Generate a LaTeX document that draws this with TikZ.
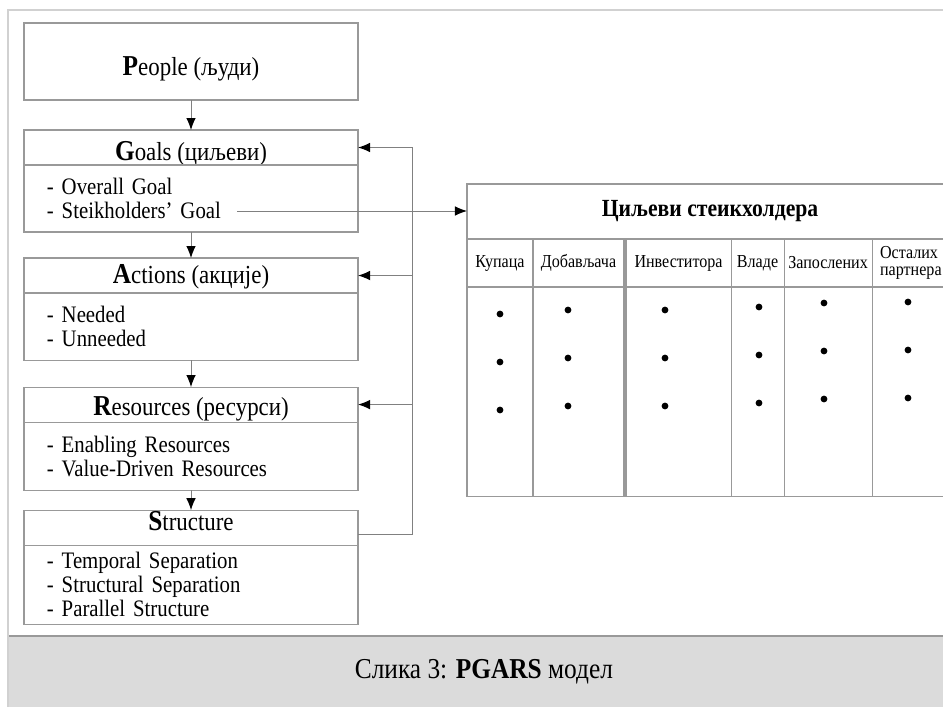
\documentclass[tikz,border=0pt]{standalone}
\usepackage{fontspec}
\setmainfont{Liberation Serif}[FakeStretch=0.88]
\usetikzlibrary{positioning, arrows.meta, calc}

\newcommand{\pgarsinit}[1]{{\fontsize{20.5}{21}\selectfont\bfseries #1}}

\begin{document}
\begin{tikzpicture}[
  x=0.025cm, y=-0.025cm,
  % Box styles
  box/.style={draw=black!40, rectangle, line width=0.8pt, outer sep=0pt, fill=white, minimum width=8.35cm},
  headbox/.style={box, inner sep=0pt, text height=0.7cm, text depth=0.175cm, font=\fontsize{18.5}{20}\selectfont},
  bodybox/.style={box, text width=7.2cm, inner xsep=0.575cm, inner ysep=2pt, align=left, font=\fontsize{16.8}{17.1}\selectfont},
  cell/.style={draw=black!40, rectangle, line width=0.8pt, outer sep=0pt, inner sep=1pt, minimum width=#1, font=\fontsize{13}{11.6}\selectfont},
  dot/.style={circle, fill=black, inner sep=0pt, minimum size=0.17cm},
  % Line styles
  line/.style={draw=black!50, line width=0.7pt, -{Latex[length=3mm, width=2.4mm, black]}},
  frame/.style={draw=black!18, line width=0.8pt},
  band/.style={rectangle, fill=black!14, inner sep=0pt}
]
  \useasboundingbox (0,0) rectangle (943,707);
  \clip (0,0) rectangle (943,707);

  % ==========================================
  % LEFT COLUMN: PGARS BLOCKS
  % ==========================================
  \node[box, inner sep=0pt, text height=1.325cm, text depth=0.6cm, font=\fontsize{18.5}{20}\selectfont] (people) at (191,61.5) {\pgarsinit{P}eople (људи)};

  \node[headbox, below=0.75cm of people, text height=0.75cm, text depth=0.125cm] (goals_head) {\pgarsinit{G}oals (циљеви)\hspace{0.4cm}};
  \node[bodybox, below=0pt of goals_head, minimum height=1.675cm] (goals_body) {
    - Overall Goal\\
    - Steikholders' Goal
  };

  \node[headbox, below=0.65cm of goals_body, text height=0.625cm, text depth=0.25cm] (actions_head) {\pgarsinit{A}ctions (акције)};
  \node[bodybox, below=0pt of actions_head, minimum height=1.675cm] (actions_body) {
    - Needed\\
    - Unneeded
  };

  \node[headbox, below=0.675cm of actions_body] (res_head) {\pgarsinit{R}esources (ресурси)};
  \node[bodybox, below=0pt of res_head, minimum height=1.7cm] (res_body) {
    - Enabling Resources\\
    - Value-Driven Resources
  };

  \node[headbox, below=0.5cm of res_body, text height=0.5cm, text depth=0.375cm] (struct_head) {\pgarsinit{S}tructure\hspace{0.3cm}};
  \node[bodybox, below=0pt of struct_head, minimum height=1.975cm] (struct_body) {
    - Temporal Separation\\
    - Structural Separation\\
    - Parallel Structure
  };

  \draw[line] (people) -- (goals_head);
  \draw[line] (goals_body) -- (actions_head);
  \draw[line] (actions_body) -- (res_head);
  \draw[line] (res_body) -- (struct_head);

  % Feedback from structure to the upper blocks
  \draw[line] ([yshift=-0.16cm]struct_head.east) -- ++(54,0) coordinate (fb_corner) |- (goals_head.east);
  \draw[line] (fb_corner |- actions_head.east) -- (actions_head.east);
  \draw[line] (fb_corner |- res_head.east) -- (res_head.east);

  % ==========================================
  % RIGHT: STAKEHOLDER GOALS TABLE
  % ==========================================
  \node[cell=12.15cm, anchor=north west, minimum height=1.375cm, font=\bfseries\fontsize{17.5}{19}\selectfont] (stk_title) at (467,184) {Циљеви стеикхолдера};

  \node[cell=1.65cm, anchor=north west, minimum height=1.2cm] (col_kup) at (stk_title.south west) {Купаца};
  \node[cell=2.275cm, right=0pt of col_kup, minimum height=1.2cm] (col_dob) {Добављача};
  \node[cell=2.625cm, right=0.05cm of col_dob, minimum height=1.2cm] (col_inv) {Инвеститора};
  \node[cell=1.325cm, right=0pt of col_inv, minimum height=1.2cm] (col_vla) {Владе};
  \node[cell=2.2cm, right=0pt of col_vla, minimum height=1.2cm] (col_zap) {Запослених};
  \node[cell=2.025cm, right=0pt of col_zap, minimum height=1.2cm, align=left, text width=1.625cm, inner xsep=0.2cm] (col_ost) {Осталих\\партнера};

  \node[cell=1.65cm, below=0pt of col_kup, minimum height=5.225cm] (body_kup) {};
  \node[cell=2.275cm, below=0pt of col_dob, minimum height=5.225cm] (body_dob) {};
  \node[cell=2.625cm, below=0pt of col_inv, minimum height=5.225cm] (body_inv) {};
  \node[cell=1.325cm, below=0pt of col_vla, minimum height=5.225cm] (body_vla) {};
  \node[cell=2.2cm, below=0pt of col_zap, minimum height=5.225cm] (body_zap) {};
  \node[cell=2.025cm, below=0pt of col_ost, minimum height=5.225cm] (body_ost) {};

  % three bullets per column
  \foreach \x/\y [count=\i] in {500/314, 568/310, 665/310, 759/307, 824/303, 908/302}
    \foreach \k in {0,1,2}
      \node[dot] (dot-\i-\k) at (\x,{\y+48*\k}) {};

  \coordinate (stk_goal) at (237,211);
  \draw[line] (stk_goal) -- (stk_goal -| stk_title.west);

  % ==========================================
  % CAPTION AND FRAME
  % ==========================================
  \node[band, anchor=north west, minimum width=23.375cm, minimum height=1.775cm, font=\fontsize{20.5}{21}\selectfont] (caption) at (8,636) {\hspace{0.4cm}Слика 3: \textbf{PGARS} модел};
  \draw[draw=black!40, line width=0.8pt] (caption.north west) -- (caption.north east);

  \draw[frame] (8,707) -- (8,10) -- (943,10);

\end{tikzpicture}
\end{document}
